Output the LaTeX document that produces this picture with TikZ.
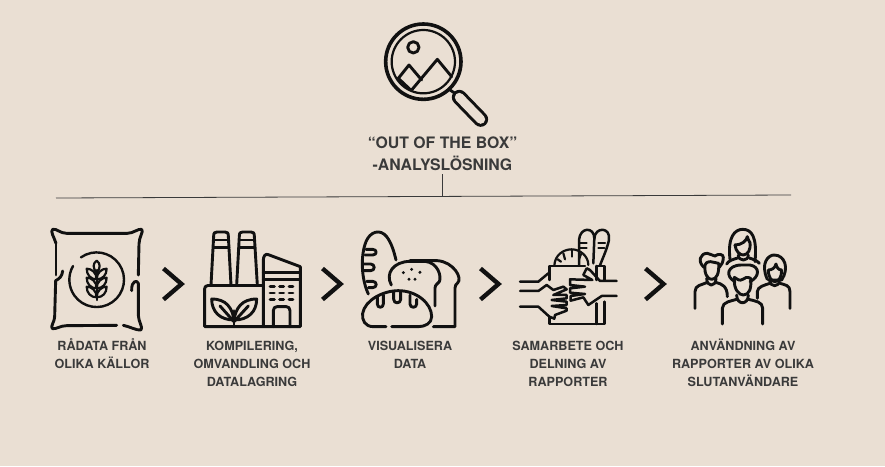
\documentclass[tikz,border=0pt]{standalone}
\usepackage{fontspec}
\setmainfont{TeX Gyre Heros}

\definecolor{paper}{HTML}{EADFD3}
\definecolor{ink}{HTML}{111111}
\definecolor{labelink}{HTML}{3A3A3A}

\tikzset{
    icon/.style={ink, line width=2.9pt, line cap=round, line join=round},
    thinicon/.style={icon, line width=2.2pt},
    chevron/.style={ink, line width=4.4pt, line cap=butt, line join=miter},
    rail/.style={labelink, line width=0.8pt},
    titletext/.style={labelink, font=\bfseries\fontsize{15.8}{22}\selectfont, align=center, anchor=north, inner sep=0pt},
    steptext/.style={labelink, font=\bfseries\fontsize{12.6}{18}\selectfont, align=center, anchor=north, inner sep=0pt},
    zoomed/.style 2 args={shift={(#1pt,-#2pt)}, x=.3333pt, y=-.3333pt}
}

\begin{document}
\begin{tikzpicture}[x=1pt, y=-1pt]
    \fill[paper](0,0) rectangle (885,466);

    \node[titletext] (title) at (442.5,136.5) {“OUT OF THE BOX”\\-ANALYSLÖSNING};
    \node[steptext] (rawdata) at (102,338.3) {RÅDATA FRÅN\\OLIKA KÄLLOR};
    \node[steptext] (storage) at (252,341.3) {KOMPILERING,\\OMVANDLING OCH\\DATALAGRING};
    \node[steptext] (visual) at (410,341.3) {VISUALISERA\\DATA};
    \node[steptext] (sharing) at (568,341.3) {SAMARBETE OCH\\DELNING AV\\RAPPORTER};
    \node[steptext] (usage) at (743,339.3) {ANVÄNDNING AV\\RAPPORTER AV OLIKA\\SLUTANVÄNDARE};

    \coordinate (railleft) at (56,198);
    \coordinate (railright) at (791,195);
    \coordinate (railjoin) at (442,196);
    \coordinate (titlefoot) at (442,174);
    \draw[rail](railleft)--(railright);
    \draw[rail](titlefoot)--(railjoin);

    \draw[chevron](163.5,268.5)--(181.5,284)--(163.5,299.5);
    \draw[chevron](322.5,268.5)--(340.5,284)--(322.5,299.5);
    \draw[chevron](480.5,268.5)--(498.5,284)--(480.5,299.5);
    \draw[chevron](645.5,268.5)--(663.5,284)--(645.5,299.5);

    % magnifier
    \begin{scope}[zoomed={360}{10}]
        \draw[icon, line width=3.6pt](190,155) circle (113);
        \draw[icon, line width=2.2pt](190,155) circle (95);
        \draw[icon](160,112) circle (17);
        \draw[icon](115,205)--(147,165)--(185,210);
        \draw[icon](115,205)--(150,238);
        \draw[icon](155,240)--(232,148)--(275,200);
        \draw[icon](270,240)--(288,252);
        \draw[ink, line width=15pt, line cap=round](298,262)--(362,328);
        \draw[paper, line width=9pt, line cap=round](298,262)--(362,328);
    \end{scope}

    % sack
    \begin{scope}[zoomed={40}{220}]
        \draw[icon](48,70)..controls (42,50) and (30,35) .. (38,28)..controls (50,25) and (60,40) .. (80,40)--(262,40)..controls (280,40) and (295,25) .. (305,28)..controls (312,35) and (297,50) .. (297,72)--(295,165);
        \draw[icon](48,70)--(48,165);
        \draw[icon](68,153)..controls (66,170) and (58,176) .. (47,182)--(44,290)..controls (44,305) and (30,320) .. (37,326)..controls (50,328) and (60,317) .. (80,317)--(230,316);
        \draw[icon](250,316)..controls (270,320) and (290,332) .. (303,330)..controls (310,322) and (295,305) .. (295,285)--(295,190)..controls (292,180) and (274,180) .. (275,212);
        \draw[icon, line width=2.4pt](123,112)arc[start angle=-125, end angle=210, radius=82];
        \draw[thinicon](170,122)..controls (158,130) and (158,145) .. (170,158)..controls (182,145) and (182,130) .. (170,122);
        \draw[thinicon](170,150)--(170,240);
        \draw[thinicon](170,178)..controls (152,178) and (140,165) .. (140,146)..controls (155,146) and (170,158) .. (170,178);
        \draw[thinicon](170,178)..controls (188,178) and (200,165) .. (200,146)..controls (185,146) and (170,158) .. (170,178);
        \draw[thinicon](170,205)..controls (152,205) and (140,192) .. (140,173)..controls (155,173) and (170,185) .. (170,205);
        \draw[thinicon](170,205)..controls (188,205) and (200,192) .. (200,173)..controls (185,173) and (170,185) .. (170,205);
        \draw[thinicon](170,232)..controls (152,232) and (140,219) .. (140,200)..controls (155,200) and (170,212) .. (170,232);
        \draw[thinicon](170,232)..controls (188,232) and (200,219) .. (200,200)..controls (185,200) and (170,212) .. (170,232);
    \end{scope}

    % factory
    \begin{scope}[zoomed={195}{220}]
        \draw[icon](48,195)--(56,48)..controls (56,38) and (60,36) .. (66,36)--(90,36)..controls (96,36) and (100,38) .. (100,48)--(108,195);
        \draw[icon](125,195)--(133,48)..controls (133,38) and (137,36) .. (143,36)--(168,36)..controls (174,36) and (178,38) .. (178,48)--(187,195);
        \draw[icon](56,60)--(100,60);
        \draw[icon](55,82)--(102,82);
        \draw[icon](133,60)--(178,60);
        \draw[icon](132,82)--(180,82);
        \draw[icon](38,197)--(205,197);
        \draw[icon](38,197)..controls (32,197) and (29,200) .. (29,206)--(29,320)--(316,320)--(316,140)--(220,104)..controls (212,100) and (205,108) .. (205,120)--(205,320);
        \draw[icon](205,158)--(316,158);
        \draw[icon](205,178)--(316,178);
        \draw[icon](225,200)--(238,200);
        \draw[icon](254,200)--(266,200);
        \draw[icon](282,200)--(294,200);
        \draw[icon](225,219)--(238,219);
        \draw[icon](254,219)--(266,219);
        \draw[icon](282,219)--(294,219);
        \draw[icon](225,238)--(238,238);
        \draw[icon](254,238)--(266,238);
        \draw[icon](282,238)--(294,238);
        \draw[icon](235,320)--(235,272)..controls (235,264) and (240,260) .. (246,260)--(274,260)..controls (280,260) and (285,264) .. (285,272)--(285,320);
        \draw[icon](117,320)--(117,272);
        \draw[icon](117,300)..controls (112,265) and (95,237) .. (50,237)..controls (50,275) and (75,300) .. (117,300);
        \draw[icon](117,300)..controls (122,265) and (140,237) .. (185,237)..controls (185,275) and (160,300) .. (117,300);
        \draw[icon](75,258)--(117,305);
        \draw[icon](160,258)--(117,305);
    \end{scope}

    % breads
    \begin{scope}[zoomed={350}{220}]
        \draw[icon](55,222)..controls (35,180) and (30,110) .. (48,65)..controls (60,35) and (90,25) .. (110,50)..controls (125,70) and (132,95) .. (138,120);
        \draw[icon](48,88)--(68,88)..controls (82,88) and (82,105) .. (68,105)--(45,105);
        \draw[icon](42,132)--(62,132)..controls (76,132) and (76,152) .. (62,152)--(42,152);
        \draw[icon](50,184)--(68,184)..controls (82,184) and (82,203) .. (68,203)--(55,203);
        \draw[icon](124,195)..controls (105,160) and (130,125) .. (180,124)--(225,124)..controls (265,128) and (275,170) .. (268,185)..controls (263,193) and (255,193) .. (255,205)--(255,258);
        \draw[icon](180,122)--(262,122)..controls (310,125) and (340,175) .. (322,190)..controls (318,194) and (315,195) .. (315,205)--(315,320)--(250,320);
        \fill[ink](160,158) circle (5);
        \fill[ink](185,148) circle (5);
        \fill[ink](210,157) circle (5);
        \fill[ink](177,178) circle (5);
        \fill[ink](195,178) circle (5);
        \draw[icon](108,320)--(70,320)..controls (45,320) and (35,300) .. (38,280)..controls (45,240) and (100,212) .. (145,212)..controls (200,212) and (245,250) .. (245,290)..controls (245,310) and (225,320) .. (205,320)--(125,320);
        \draw[icon](82,230)--(82,252)..controls (82,265) and (100,265) .. (100,252)--(100,224);
        \draw[icon](131,215)--(131,238)..controls (131,252) and (152,252) .. (152,238)--(152,215);
        \draw[icon](180,225)--(180,252)..controls (180,265) and (200,265) .. (200,252)--(200,238);
    \end{scope}

    % hands and bag
    \begin{scope}[zoomed={505}{220}]
        \draw[icon, line width=2.5pt](133,180)--(133,138)--(240,138);
        \draw[icon, line width=2.5pt](275,138)--(298,138)--(298,180);
        \draw[icon, line width=2.5pt](275,138)--(275,180);
        \draw[icon, line width=2.5pt](133,290)--(133,312)--(298,312)--(298,245);
        \draw[icon, line width=2.5pt](275,250)--(275,312);
        \draw[thinicon](148,136)..controls (150,105) and (175,88) .. (200,88)..controls (225,88) and (250,108) .. (250,135);
        \draw[thinicon](175,100)--(180,118);
        \draw[thinicon](200,90)--(200,110);
        \draw[thinicon](228,102)--(222,118);
        \draw[thinicon](158,118)--(168,125);
        \draw[icon, line width=2.5pt](222,135)--(222,60)..controls (225,20) and (268,20) .. (268,55)--(265,130);
        \draw[icon, line width=2.5pt](268,55)..controls (270,20) and (318,20) .. (312,60)..controls (305,90) and (295,110) .. (285,136);
        \draw[thinicon](225,70)--(245,70);
        \draw[thinicon](225,85)--(245,85);
        \draw[thinicon](280,70)--(300,70);
        \draw[thinicon](280,84)--(298,84);
        \draw[icon, line width=2.5pt](45,185)--(100,185)--(130,160);
        \draw[icon, line width=2.5pt](45,213)--(100,213)--(125,195)--(145,210)--(175,200)--(185,208)--(145,225)--(185,225)--(185,235)--(140,240)--(185,245)--(185,255)--(140,258)--(185,265)--(185,272)--(150,285)--(148,296)--(133,290)--(100,260)--(45,260);
        \draw[icon, line width=2.5pt](335,183)--(285,183)--(255,150)--(245,145)--(235,165)--(262,180)--(195,178)--(195,195)--(240,200)--(195,205)--(195,218)--(240,222)--(197,228)--(197,242)--(235,232)--(250,255)--(290,228)--(335,228);
    \end{scope}

    % people
    \begin{scope}[zoomed={670}{220}]
        \draw[icon](180,118)..controls (172,50) and (195,28) .. (218,28)..controls (245,28) and (262,50) .. (255,125);
        \draw[icon](195,75)..controls (197,95) and (210,105) .. (220,105)..controls (235,103) and (242,90) .. (240,68);
        \draw[icon](195,75)..controls (215,75) and (230,62) .. (232,50)..controls (235,60) and (238,65) .. (240,68);
        \draw[icon](205,105)..controls (205,125) and (235,125) .. (235,105);
        \draw[icon](170,132)..controls (175,122) and (190,118) .. (203,114);
        \draw[icon](238,114)..controls (250,118) and (262,122) .. (268,130);
        \draw[icon](102,142)..controls (82,125) and (90,100) .. (112,100)--(135,108)..controls (145,100) and (160,102) .. (160,112)..controls (160,125) and (155,135) .. (148,142);
        \draw[icon](105,135)..controls (102,165) and (115,178) .. (125,178)..controls (140,178) and (148,160) .. (146,130)--(122,125)..controls (112,125) and (105,130) .. (105,135);
        \draw[icon](110,175)..controls (110,202) and (138,202) .. (138,175);
        \draw[icon](75,265)--(75,215)..controls (75,195) and (95,195) .. (110,188);
        \draw[icon](140,188)..controls (155,192) and (172,198) .. (172,230);
        \draw[icon](292,178)..controls (270,130) and (295,105) .. (312,105)..controls (345,105) and (358,145) .. (335,180)--(295,180);
        \draw[icon](295,150)..controls (295,172) and (305,185) .. (315,185)..controls (328,183) and (335,170) .. (335,150)..controls (325,150) and (320,142) .. (318,132)..controls (315,145) and (305,150) .. (295,150);
        \draw[icon](300,182)..controls (300,202) and (328,202) .. (328,182);
        \draw[icon](262,235)--(262,215)..controls (262,200) and (285,195) .. (300,190);
        \draw[icon](330,190)..controls (345,195) and (360,195) .. (360,215)--(360,265);
        \draw[icon](195,185)..controls (165,170) and (170,135) .. (215,135)--(240,135)..controls (270,140) and (270,170) .. (240,185);
        \draw[icon](193,172)..controls (190,210) and (208,225) .. (220,225)..controls (238,225) and (245,205) .. (242,175)..controls (232,170) and (225,172) .. (218,178)..controls (210,184) and (200,178) .. (193,172);
        \draw[icon](200,225)..controls (200,256) and (235,256) .. (235,225);
        \draw[icon](157,312)--(157,265)..controls (157,245) and (185,243) .. (200,238);
        \draw[icon](235,238)..controls (255,243) and (278,245) .. (278,265)--(278,312);
    \end{scope}
\end{tikzpicture}
\end{document}
